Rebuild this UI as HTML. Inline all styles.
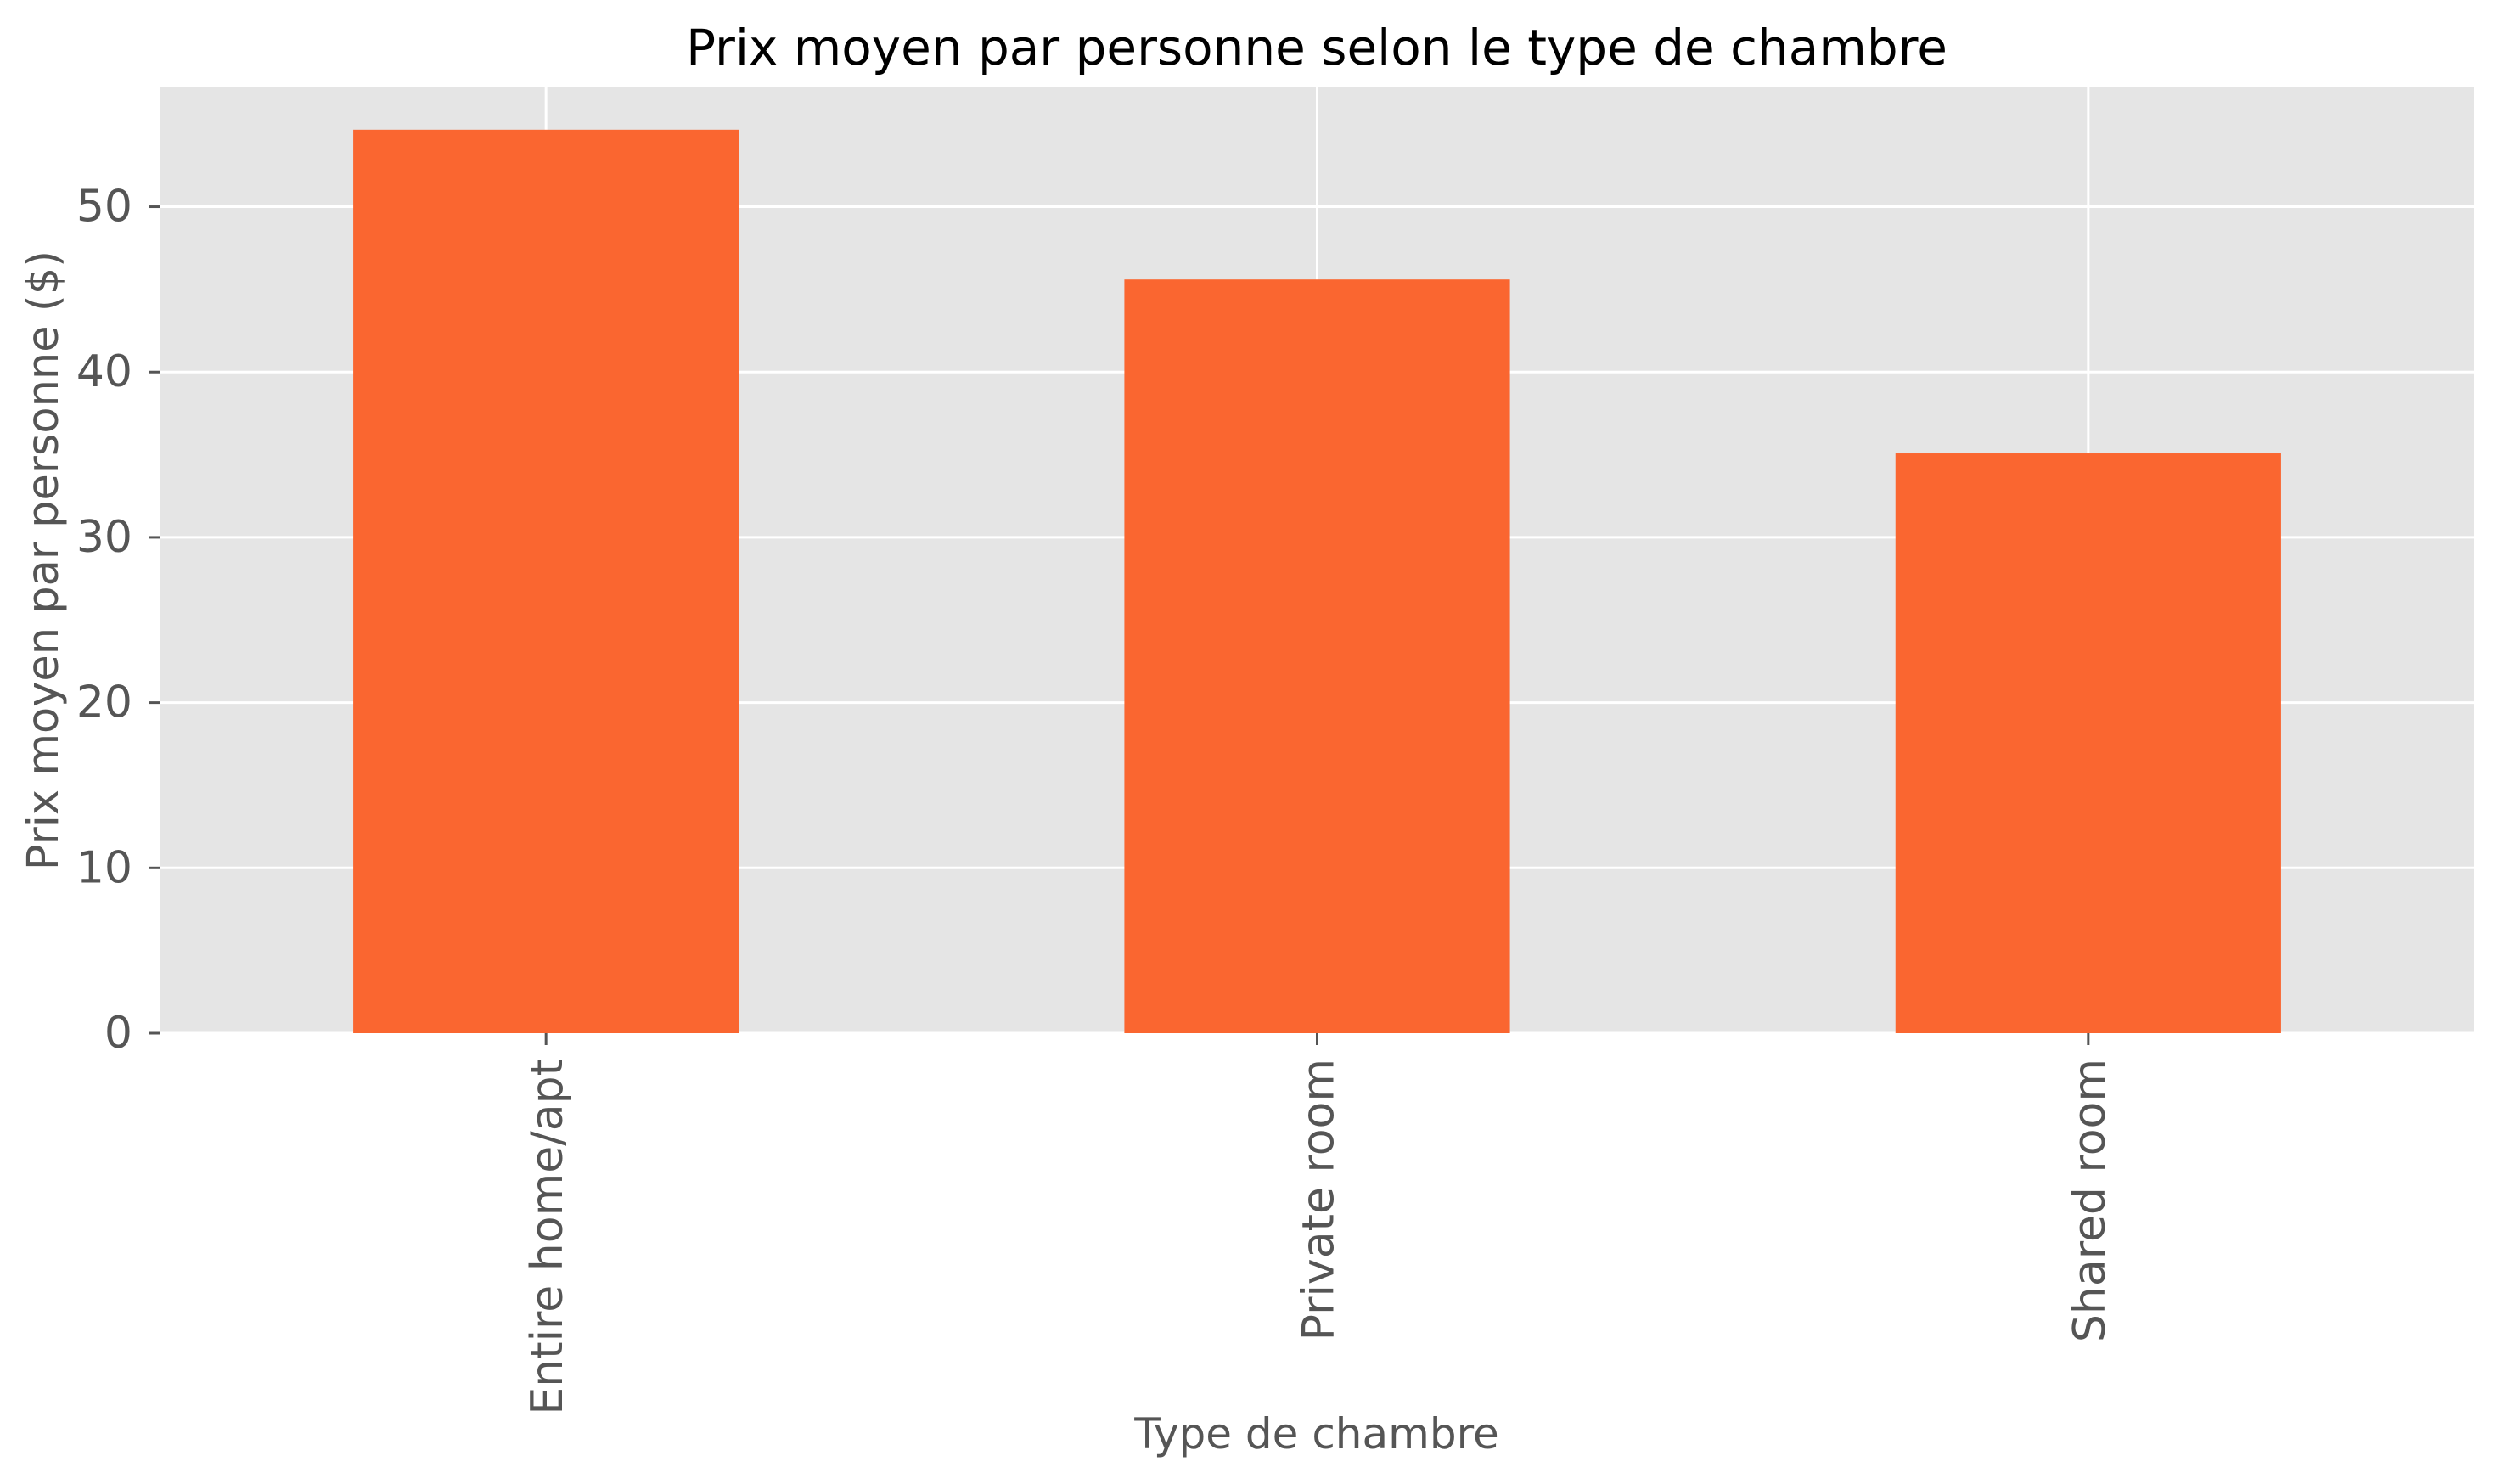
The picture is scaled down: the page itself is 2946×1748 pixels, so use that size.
<!DOCTYPE html>
<html><head><meta charset="utf-8"><style>
html,body{margin:0;padding:0;background:#fff;}
svg{display:block;font-family:"DejaVu Sans","Liberation Sans",sans-serif;}
</style></head><body>
<svg id="chart" width="2946" height="1748" viewBox="0 0 2946 1748">
<rect x="0" y="0" width="2946" height="1748" fill="#fff"/>
<rect id="plotbg" x="189" y="102" width="2725" height="1115" fill="#e5e5e5"/>
<g id="grid"></g><g id="bars"></g><g id="axes"></g>
<text x="1551" y="76" font-size="58" fill="#000" text-anchor="middle">Prix moyen par personne selon le type de chambre</text>
<text x="1551" y="1706" font-size="50" fill="#555" text-anchor="middle">Type de chambre</text>
<text transform="translate(68,660) rotate(-90)" font-size="51" fill="#555" text-anchor="middle">Prix moyen par personne ($)</text>
</svg>
<script>
const categories = ["Entire home/apt", "Private room", "Shared room"];
const values = [54.66, 45.6, 35.08];
const yTicks = [0, 10, 20, 30, 40, 50];
const yTickLabels = ["0", "10", "20", "30", "40", "50"];

const NS = "http://www.w3.org/2000/svg";
const L = 189, R = 2914, T = 102, B = 1217, YMAX = 57.27;
const step = (R - L) / categories.length;
function xC(i){ return L + step * (i + 0.5); }
function yS(v){ return B - (v / YMAX) * (B - T); }
function mk(tag, attrs, parent){
  const e = document.createElementNS(NS, tag);
  for (const k in attrs) e.setAttribute(k, attrs[k]);
  parent.appendChild(e); return e;
}
const grid = document.getElementById('grid');
const bars = document.getElementById('bars');
const axes = document.getElementById('axes');

yTicks.forEach((t, i) => {
  const y = yS(t);
  const g = mk('line', {x1: L, x2: R, y1: y, y2: y, stroke: '#fff', 'stroke-width': 3}, grid);
  
  
  const tk = mk('line', {x1: L - 14, x2: L, y1: y, y2: y, stroke: '#555', 'stroke-width': 3}, axes);
  
  
  const tx = mk('text', {x: L - 33, y: y, 'font-size': 52, fill: '#555', 'text-anchor': 'end', 'dominant-baseline': 'central'}, axes);
  tx.textContent = yTickLabels[i];
  
  
});
categories.forEach((c, i) => {
  const x = xC(i);
  const g = mk('line', {x1: x, x2: x, y1: T, y2: B, stroke: '#fff', 'stroke-width': 3}, grid);
  
  
  const w = step * 0.5;
  const b = mk('rect', {x: x - w / 2, y: yS(values[i]), width: w, height: B - yS(values[i]), fill: '#fa6630'}, bars);
  
  
  const tk = mk('line', {x1: x, x2: x, y1: B, y2: B + 14, stroke: '#555', 'stroke-width': 3}, axes);
  
  
  const tx = mk('text', {transform: 'translate(' + (x + 19) + ',' + (B + 30) + ') rotate(-90)', 'font-size': 52, fill: '#555', 'text-anchor': 'end'}, axes);
  tx.textContent = c;
  
  
});
</script>
</body></html>
